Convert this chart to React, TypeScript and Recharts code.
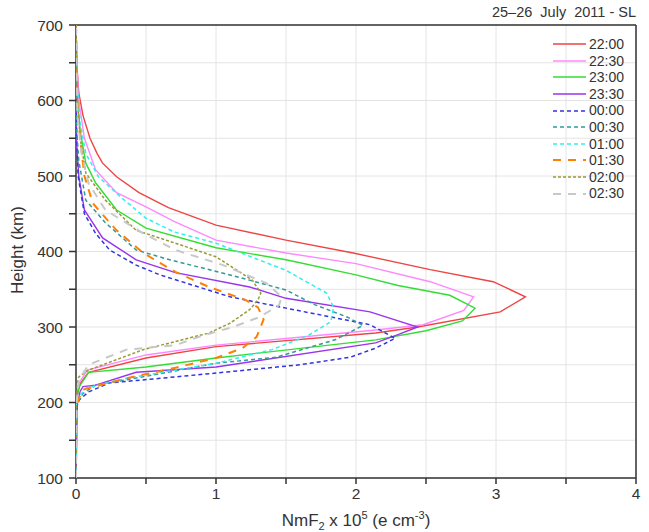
import React from "react";
import {
  ScatterChart,
  Scatter,
  XAxis,
  YAxis,
  CartesianGrid,
  ReferenceLine,
} from "recharts";

// [height km, NmF2 x 1e5]
const p2200 = [[100, 0], [200, 0], [210, 0.01], [225, 0.03], [240, 0.09], [259, 0.5], [274, 1.0], [292, 2.14], [300, 2.44], [320, 3.03], [340, 3.21], [360, 2.98], [376, 2.53], [398, 1.98], [415, 1.5], [435, 1.0], [458, 0.66], [478, 0.45], [499, 0.29], [517, 0.19], [530, 0.15], [550, 0.1], [580, 0.05], [610, 0.02], [650, 0.005], [700, 0]];
const p2230 = [[100, 0], [200, 0], [225, 0.02], [243, 0.08], [263, 0.5], [276, 1.0], [296, 2.14], [303, 2.48], [322, 2.77], [340, 2.84], [360, 2.53], [384, 2.0], [398, 1.5], [415, 1.0], [440, 0.7], [459, 0.5], [478, 0.29], [508, 0.14], [550, 0.06], [600, 0.02], [650, 0.005], [700, 0]];
const p2300 = [[100, 0], [200, 0], [220, 0.02], [240, 0.09], [247, 0.5], [259, 1.0], [283, 2.14], [295, 2.5], [308, 2.76], [325, 2.85], [342, 2.67], [355, 2.3], [369, 2.0], [389, 1.5], [405, 1.0], [431, 0.5], [455, 0.29], [491, 0.14], [517, 0.07], [560, 0.03], [600, 0.01], [700, 0]];
const p2330 = [[100, 0], [200, 0.01], [215, 0.03], [221, 0.05], [223, 0.14], [240, 0.43], [247, 1.0], [279, 2.14], [290, 2.3], [300, 2.44], [320, 2.1], [338, 1.5], [353, 1.24], [372, 0.71], [389, 0.43], [418, 0.19], [455, 0.06], [500, 0.02], [540, 0.005], [600, 0], [700, 0]];
const p0000 = [[100, 0], [190, 0], [203, 0.02], [214, 0.09], [226, 0.24], [232, 0.6], [239, 1.0], [250, 1.6], [260, 1.96], [272, 2.14], [285, 2.28], [303, 2.1], [325, 1.5], [340, 1.1], [369, 0.6], [382, 0.43], [402, 0.24], [424, 0.14], [450, 0.06], [500, 0.015], [550, 0.005], [600, 0], [700, 0]];
const p0030 = [[100, 0], [195, 0], [212, 0.05], [223, 0.14], [234, 0.48], [252, 1.0], [260, 1.43], [283, 1.85], [302, 2.05], [313, 1.94], [330, 1.7], [349, 1.5], [369, 1.1], [390, 0.65], [402, 0.43], [438, 0.21], [468, 0.07], [520, 0.02], [560, 0.005], [700, 0]];
const p0100 = [[100, 0], [195, 0], [207, 0.02], [219, 0.07], [232, 0.36], [252, 1.0], [270, 1.4], [289, 1.66], [307, 1.82], [326, 1.84], [345, 1.79], [375, 1.5], [411, 1.0], [426, 0.7], [444, 0.5], [472, 0.32], [499, 0.16], [530, 0.07], [570, 0.03], [620, 0.01], [700, 0]];
const p0130 = [[100, 0], [195, 0], [205, 0.02], [217, 0.05], [232, 0.36], [246, 0.71], [259, 1.0], [272, 1.19], [287, 1.29], [310, 1.34], [326, 1.3], [336, 1.21], [353, 0.95], [373, 0.71], [398, 0.48], [428, 0.29], [451, 0.18], [464, 0.12], [500, 0.06], [550, 0.03], [600, 0.01], [700, 0]];
const p0200 = [[100, 0], [200, 0.005], [225, 0.01], [234, 0.02], [243, 0.09], [270, 0.48], [292, 0.95], [305, 1.1], [323, 1.24], [336, 1.3], [345, 1.32], [362, 1.26], [393, 1.0], [411, 0.71], [428, 0.43], [468, 0.21], [504, 0.07], [550, 0.03], [600, 0.01], [700, 0]];
const p0230 = [[100, 0], [200, 0.005], [230, 0.02], [250, 0.09], [270, 0.36], [276, 0.71], [289, 0.91], [300, 1.12], [313, 1.31], [329, 1.45], [340, 1.47], [358, 1.36], [382, 1.05], [402, 0.71], [424, 0.48], [455, 0.21], [490, 0.09], [530, 0.04], [580, 0.01], [700, 0]];

const xTicks = [0, 0.5, 1, 1.5, 2, 2.5, 3, 3.5, 4];
const yTicks = [100, 150, 200, 250, 300, 350, 400, 450, 500, 550, 600, 650, 700];

const SERIES = [
  { name: "22:00", data: p2200, color: "#EE4444", dash: undefined, w: 1.4 },
  { name: "22:30", data: p2230, color: "#FF88FF", dash: undefined, w: 1.4 },
  { name: "23:00", data: p2300, color: "#33DD33", dash: undefined, w: 1.4 },
  { name: "23:30", data: p2330, color: "#9933EE", dash: undefined, w: 1.4 },
  { name: "00:00", data: p0000, color: "#3333DD", dash: "4 3", w: 1.5 },
  { name: "00:30", data: p0030, color: "#339999", dash: "4 3", w: 1.5 },
  { name: "01:00", data: p0100, color: "#33EEEE", dash: "4 3", w: 1.5 },
  { name: "01:30", data: p0130, color: "#FF8000", dash: "8 7", w: 2 },
  { name: "02:00", data: p0200, color: "#999933", dash: "3 2", w: 1.5 },
  { name: "02:30", data: p0230, color: "#C8C8C8", dash: "8 7", w: 2 },
];

const FONT = "'Liberation Sans', Arial, sans-serif";
const axisTick = { fontSize: 15.5, fill: "#333", fontFamily: FONT };

function LegendBox() {
  return (
    <div
      style={{
        position: "absolute",
        left: 553,
        top: 36,
        fontFamily: FONT,
        fontSize: 14,
        color: "#333",
        lineHeight: "16.6px",
      }}
    >
      {SERIES.map((s) => (
        <div key={s.name} style={{ display: "flex", alignItems: "center", height: 16.6 }}>
          <svg width={33} height={6} style={{ marginRight: 3 }}>
            <line x1={0} y1={3} x2={33} y2={3} stroke={s.color} strokeWidth={s.w} strokeDasharray={s.dash} />
          </svg>
          <span>{s.name}</span>
        </div>
      ))}
    </div>
  );
}

const noShape = () => <g />;

export default function App() {
  return (
    <div style={{ position: "absolute", left: 0, top: 0, width: 649, height: 532, background: "#fff" }}>
      <ScatterChart width={649} height={532} margin={{ top: 25, right: 13, left: 30, bottom: 24 }}>
        <CartesianGrid stroke="#e4e4e4" />
        <XAxis
          type="number"
          dataKey="v"
          domain={[0, 4]}
          ticks={xTicks}
          interval={0}
          tickFormatter={(t: number) => (Number.isInteger(t) ? String(t) : "")}
          tick={axisTick}
          tickSize={6}
          tickMargin={4}
          stroke="#333"
          strokeWidth={1.5}
          height={30}
          allowDataOverflow
          label={{
            content: (props: any) => {
              const vb = props.viewBox;
              const cx = vb.x + vb.width / 2;
              return (
                <text x={cx} y={526} textAnchor="middle" fontFamily={FONT} fontSize={17} fill="#333">
                  NmF
                  <tspan fontSize={11} dy={4}>2</tspan>
                  <tspan dy={-4}> x 10</tspan>
                  <tspan fontSize={11} dy={-7}>5</tspan>
                  <tspan dy={7}> (e cm</tspan>
                  <tspan fontSize={11} dy={-7}>-3</tspan>
                  <tspan dy={7}>)</tspan>
                </text>
              );
            },
          }}
        />
        <YAxis
          type="number"
          dataKey="h"
          domain={[100, 700]}
          ticks={yTicks}
          interval={0}
          tickFormatter={(t: number) => (t % 100 === 0 ? String(t) : "")}
          tick={axisTick}
          tickSize={7}
          tickMargin={6}
          stroke="#333"
          strokeWidth={1.5}
          width={46}
          allowDataOverflow
          label={{
            content: () => (
              <text
                x={23}
                y={250}
                transform="rotate(-90 23 250)"
                textAnchor="middle"
                fontFamily={FONT}
                fontSize={17}
                fill="#333"
              >
                Height (km)
              </text>
            ),
          }}
        />
        <ReferenceLine y={700} stroke="#333" strokeWidth={1.5} />
        <ReferenceLine x={4} stroke="#333" strokeWidth={1.5} />
        {SERIES.map((s) => (
          <Scatter
            key={s.name}
            name={s.name}
            data={s.data.map(([h, v]) => ({ h, v }))}
            fill={s.color}
            shape={noShape}
            line={{ stroke: s.color, strokeWidth: s.w, strokeDasharray: s.dash }}
            isAnimationActive={false}
          />
        ))}
      </ScatterChart>
      <div
        style={{
          position: "absolute",
          right: 13,
          top: 4,
          fontFamily: FONT,
          fontSize: 14.5,
          color: "#333",
          whiteSpace: "pre",
        }}
      >
        25–26  July  2011 - SL
      </div>
      <LegendBox />
    </div>
  );
}
